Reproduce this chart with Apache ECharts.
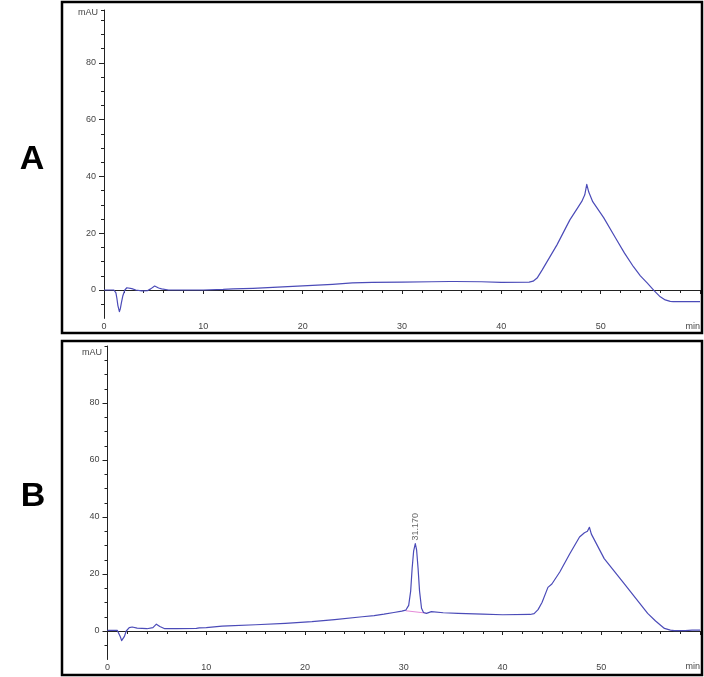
<!DOCTYPE html>
<html>
<head>
<meta charset="utf-8">
<script src="https://cdn.jsdelivr.net/npm/echarts@6/dist/echarts.min.js"></script>
<style>html,body{margin:0;padding:0;background:#fff}#c{width:704px;height:677px}</style>
</head>
<body>
<div id="c"></div>
<script>
// ---- data ----
var timeA = [0,1.0,1.2,1.3,1.4,1.55,1.65,1.75,1.9,2.1,2.3,2.5,2.8,3.2,3.8,4.4,4.7,4.9,5.1,5.3,5.5,5.8,6.5,8,10,12,13,15,17,19,21,23,25,27,30,33,34.8,35,35.3,38,38.2,40,42.8,43.2,43.6,44.1,45.6,46.9,47.6,48.1,48.4,48.6,48.8,49.2,50.3,51.5,52.4,53.3,54,54.7,55.4,56,56.5,57,57.3,60];
var valA  = [0,0,-1,-3,-5.5,-7.6,-6.5,-4.5,-2,0,0.8,0.9,0.5,0,-0.3,-0.2,0.4,1.1,1.4,1.1,0.7,0.4,0,0,0,0.2,0.4,0.6,0.9,1.3,1.6,2.0,2.5,2.7,2.8,2.9,3.0,3.4,3.0,2.9,2.7,2.7,2.8,3.1,4.2,7,15.9,24.7,28.5,31.2,33.5,37.2,34.5,31.1,25.5,18.3,13,8.2,5,2.4,-0.3,-2.4,-3.5,-4.0,-4.1,-4.1];

var timeB = [0,1.0,1.2,1.3,1.43,1.55,1.7,1.9,2.2,2.5,3,4,4.6,4.8,4.95,5.1,5.3,5.8,7,9,9.3,10,11.6,12.2,15,18,20.7,23,25.8,27,28,29,29.8,30.2,30.5,30.7,30.85,31.0,31.17,31.3,31.45,31.6,31.8,32.0,32.3,32.8,34,35.5,38,40,42.8,43.2,43.6,44,44.6,45,45.8,46.8,47.8,48.3,48.6,48.8,49.0,50.3,52.3,54.7,55.5,56.4,57.0,57.4,58.5,59.2,60];
var valB  = [0.2,0.2,-0.5,-2,-3.4,-3.0,-2.0,0,1.2,1.4,1.0,0.8,1.2,1.9,2.4,2.1,1.6,0.8,0.8,0.9,1.1,1.2,1.7,1.8,2.2,2.7,3.3,4.0,5.0,5.4,5.9,6.5,7.0,7.3,9,14,22,28,30.7,28.5,22,14,8,6.5,6.2,6.8,6.4,6.2,5.9,5.7,5.8,6.1,7.5,10,15.3,16.5,20.7,27,33,34.5,35,36.4,34,25.4,16.7,6.2,3.5,0.9,0.3,0.1,0.1,0.3,0.3];

var baselineB = [[30.2, 7.1],[32.2, 6.3]];   // integration baseline
var peakB = [31.17, 30.7];
var peakLabel = '31.170';

var yMajor = [0,20,40,60,80];
var yMinorA = [-5,5,10,15,25,30,35,45,50,55,65,70,75,85,90,95,98.6];
var yMinorB = [-5,5,10,15,25,30,35,45,50,55,65,70,75,85,90,95,100];

function pairs(t, v){ return t.map(function(x,i){ return [x, v[i]]; }); }

var lineColor = '#4b4bb8';
var txt = {fontFamily:'Liberation Sans, Arial, sans-serif', fontSize:9, color:'#444'};

function xAx(grid){
  return {type:'value', gridIndex:grid, min:0, max:60, interval:10,
    axisLine:{show:true, lineStyle:{color:'#222', width:1}},
    axisTick:{show:true, length:4, lineStyle:{color:'#222'}},
    minorTick:{show:true, splitNumber:5, length:3, lineStyle:{color:'#222'}},
    splitLine:{show:false}, minorSplitLine:{show:false},
    axisLabel:Object.assign({margin:4, formatter:function(v){return v===60?'':String(v);}}, txt)
  };
}
function yAxMajor(grid, max){
  return {type:'value', gridIndex:grid, min:-10, max:max, position:'left',
    axisLine:{show:true, onZero:false, lineStyle:{color:'#222', width:1}},
    axisTick:{show:true, length:5, customValues:yMajor, lineStyle:{color:'#222'}},
    axisLabel:Object.assign({margin:8, customValues:yMajor}, txt),
    splitLine:{show:false}
  };
}
function yAxMinor(grid, max, vals){
  return {type:'value', gridIndex:grid, min:-10, max:max, position:'left',
    axisLine:{show:false},
    axisTick:{show:true, length:3, customValues:vals, lineStyle:{color:'#222'}},
    axisLabel:{show:false},
    splitLine:{show:false}
  };
}

var chart = echarts.init(document.getElementById('c'), null, {renderer:'canvas'});
chart.setOption({
  animation:false,
  backgroundColor:'#fff',
  grid:[
    {left:104, right:4, top:10, bottom:358.6},
    {left:107.5, right:4, top:346, bottom:17.5}
  ],
  xAxis:[xAx(0), xAx(1)],
  yAxis:[yAxMajor(0,98.6), yAxMinor(0,98.6,yMinorA), yAxMajor(1,100), yAxMinor(1,100,yMinorB)],
  series:[
    {type:'line', xAxisIndex:0, yAxisIndex:0, data:pairs(timeA,valA), showSymbol:false, symbol:'none',
     smooth:false, lineStyle:{color:lineColor, width:1.2, join:'round'}},
    {type:'line', xAxisIndex:1, yAxisIndex:2, data:baselineB, symbol:'none',
     lineStyle:{color:'#e58ad8', width:1}},
    {type:'line', xAxisIndex:1, yAxisIndex:2, data:pairs(timeB,valB), showSymbol:false, symbol:'none',
     smooth:false, lineStyle:{color:lineColor, width:1.2, join:'round'}},
    {type:'scatter', xAxisIndex:1, yAxisIndex:2, data:[peakB], symbolSize:0,
     label:Object.assign({show:true, formatter:peakLabel, position:'top', rotate:90, distance:3, align:'left', verticalAlign:'middle'}, txt)}
  ],
  graphic:[
    {type:'rect', shape:{x:62, y:2, width:640, height:331}, style:{fill:'none', stroke:'#000', lineWidth:2.5}, z:100},
    {type:'rect', shape:{x:62, y:341, width:640, height:334}, style:{fill:'none', stroke:'#000', lineWidth:2.5}, z:100},
    {type:'text', x:32, y:160, style:{text:'A', font:'bold 34px Liberation Sans, Arial, sans-serif', fill:'#000', textAlign:'center', textVerticalAlign:'middle'}},
    {type:'text', x:33, y:497, style:{text:'B', font:'bold 34px Liberation Sans, Arial, sans-serif', fill:'#000', textAlign:'center', textVerticalAlign:'middle'}},
    {type:'text', x:98, y:13, style:{text:'mAU', font:'9px Liberation Sans, Arial, sans-serif', fill:'#444', textAlign:'right', textVerticalAlign:'middle'}},
    {type:'text', x:102, y:353, style:{text:'mAU', font:'9px Liberation Sans, Arial, sans-serif', fill:'#444', textAlign:'right', textVerticalAlign:'middle'}},
    {type:'text', x:700, y:327, style:{text:'min', font:'9px Liberation Sans, Arial, sans-serif', fill:'#444', textAlign:'right', textVerticalAlign:'middle'}},
    {type:'text', x:700, y:667, style:{text:'min', font:'9px Liberation Sans, Arial, sans-serif', fill:'#444', textAlign:'right', textVerticalAlign:'middle'}}
  ]
});
</script>
</body>
</html>
